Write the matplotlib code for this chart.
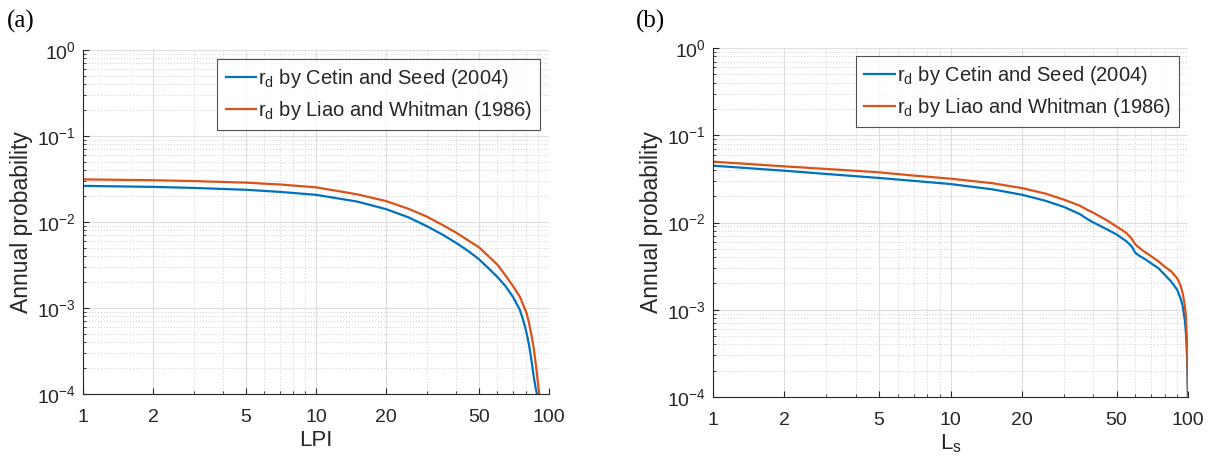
import matplotlib
matplotlib.use("Agg")
import matplotlib.pyplot as plt
from matplotlib.ticker import LogLocator, FixedLocator, FixedFormatter, NullFormatter

plt.rcParams['font.family'] = ['Liberation Sans', 'DejaVu Sans']
plt.rcParams['mathtext.fontset'] = 'custom'
plt.rcParams['mathtext.rm'] = 'Liberation Sans'
plt.rcParams['mathtext.it'] = 'Liberation Sans:italic'
plt.rcParams['mathtext.bf'] = 'Liberation Sans:bold'

# ---- data (a): LPI ----
lpi_x = [1, 2, 3, 5, 7, 10, 15, 20, 25, 30, 35, 40, 45, 50, 55, 60, 65, 70, 75, 78, 80, 82, 84, 86, 87.5, 88.8]
lpi_cetin = [0.0263, 0.0256, 0.0249, 0.0237, 0.0224, 0.0207, 0.0173, 0.0141, 0.0113, 0.0089,
             0.0071, 0.0057, 0.0046, 0.0037, 0.0029, 0.0023, 0.0018, 0.00135, 0.00095, 0.00068,
             0.00052, 0.00038, 0.00025, 0.00016, 0.00012, 0.0001]
lpi_x2 = [1, 2, 3, 5, 7, 10, 15, 20, 25, 30, 35, 40, 45, 50, 55, 60, 65, 70, 75, 80, 82, 84, 86,
          88, 89.5, 90.8]
lpi_liao = [0.0313, 0.0306, 0.0299, 0.0287, 0.0273, 0.0253, 0.0210, 0.0175, 0.0142, 0.0115,
            0.0092, 0.0075, 0.0061, 0.0051, 0.0040, 0.0032, 0.0024, 0.0018, 0.00135, 0.00088,
            0.00068, 0.00049, 0.00034, 0.00021, 0.00014, 0.0001]

# ---- data (b): Ls ----
ls_x = [1, 2, 3, 5, 7, 10, 15, 20, 25, 30, 35, 38, 40, 45, 50, 55, 58, 60, 62, 65, 70, 75,
        80, 85, 90, 93, 95, 97, 98, 99, 99.5, 100]
ls_cetin = [0.0448, 0.0392, 0.0360, 0.0324, 0.0300, 0.0276, 0.0240, 0.0208, 0.0178, 0.0151,
            0.0125, 0.0108, 0.0100, 0.0085, 0.0073, 0.0061, 0.0053, 0.0045, 0.0042, 0.0039,
            0.0034, 0.0030, 0.0025, 0.0021, 0.0017, 0.00135, 0.0011, 0.00075, 0.00054,
            0.0003, 0.00018, 0.0001]
ls_liao = [0.0498, 0.0440, 0.0411, 0.0376, 0.0345, 0.0318, 0.0282, 0.0248, 0.0215, 0.0183,
           0.0156, 0.0138, 0.0129, 0.0108, 0.0090, 0.0076, 0.0065, 0.0056, 0.0052, 0.0047,
           0.0041, 0.0036, 0.0031, 0.00275, 0.0023, 0.0019, 0.00155, 0.0011, 0.00084,
           0.00045, 0.00025, 0.0001]

labels = [r'r$_{\mathregular{d}}$ by Cetin and Seed (2004)',
          r'r$_{\mathregular{d}}$ by Liao and Whitman (1986)']
xticks = [1, 2, 5, 10, 20, 50, 100]
xticklabels = ['1', '2', '5', '10', '20', '50', '100']

BLUE = '#0072BD'
ORANGE = '#D95319'
TXT = '#262626'

W, H = 1216, 467
fig = plt.figure(figsize=(W / 100, H / 100), dpi=100)

def make_axes(rect, xs1, y1, xs2, y2, xlabel, panel, panel_xy, legend_anchor):
    ax = fig.add_axes(rect)
    ax.plot(xs1, y1, color=BLUE, lw=1.6, label=labels[0])
    ax.plot(xs2, y2, color=ORANGE, lw=1.6, label=labels[1])
    ax.set_xscale('log')
    ax.set_yscale('log')
    ax.set_xlim(1, 100)
    ax.set_ylim(1e-4, 1)
    ax.xaxis.set_major_locator(FixedLocator(xticks))
    ax.xaxis.set_major_formatter(FixedFormatter(xticklabels))
    ax.xaxis.set_minor_locator(LogLocator(base=10, subs=range(2, 10)))
    ax.xaxis.set_minor_formatter(NullFormatter())
    ax.yaxis.set_major_locator(LogLocator(base=10, numticks=10))
    ax.yaxis.set_minor_locator(LogLocator(base=10, subs=range(2, 10), numticks=10))
    ax.yaxis.set_minor_formatter(NullFormatter())
    ax.grid(True, which='major', color='#dedede', lw=0.8, ls='-')
    ax.grid(True, which='minor', color='#cfcfcf', lw=0.7, ls=(0, (1, 2)))
    ax.set_axisbelow(True)
    for s in ['top', 'right']:
        ax.spines[s].set_visible(False)
    for s in ['left', 'bottom']:
        ax.spines[s].set_color(TXT)
        ax.spines[s].set_linewidth(0.8)
    ax.tick_params(which='both', direction='in', colors=TXT, labelsize=14)
    ax.tick_params(axis='x', pad=10.5)
    ax.tick_params(axis='y', pad=5)
    ax.tick_params(which='major', length=4, width=0.8)
    ax.tick_params(which='minor', length=2.5, width=0.6)
    ax.set_xlabel(xlabel, fontsize=16, color=TXT, labelpad=3)
    ax.set_ylabel('Annual probability', fontsize=16.5, color=TXT, labelpad=3)
    leg = ax.legend(loc='upper right', bbox_to_anchor=legend_anchor, fontsize=14.5,
                    frameon=True, fancybox=False, edgecolor=TXT, handlelength=1.5,
                    handletextpad=0.1, borderpad=0.4, labelspacing=0.45, borderaxespad=0)
    leg.get_frame().set_linewidth(0.8)
    for t in leg.get_texts():
        t.set_color(TXT)
    fig.text(panel_xy[0], panel_xy[1], panel, fontsize=18, family='Liberation Serif',
             ha='left', va='center', color='black')
    return ax

# panel (a): axes px x 83..549, y 50..394
ax1 = make_axes([83 / W, 1 - 394 / H, 466 / W, 344 / H], lpi_x, lpi_cetin, lpi_x2, lpi_liao,
                'LPI', '(a)', (7 / W, 1 - 21 / H), (0.981, 0.974))
# panel (b): axes px x 713..1188, y 48..397
ax2 = make_axes([713 / W, 1 - 397 / H, 475 / W, 349 / H], ls_x, ls_cetin, ls_x, ls_liao,
                r'L$_{\mathregular{s}}$', '(b)', (636 / W, 1 - 21 / H), (0.981, 0.977))

fig.savefig('out.png', dpi=100)
